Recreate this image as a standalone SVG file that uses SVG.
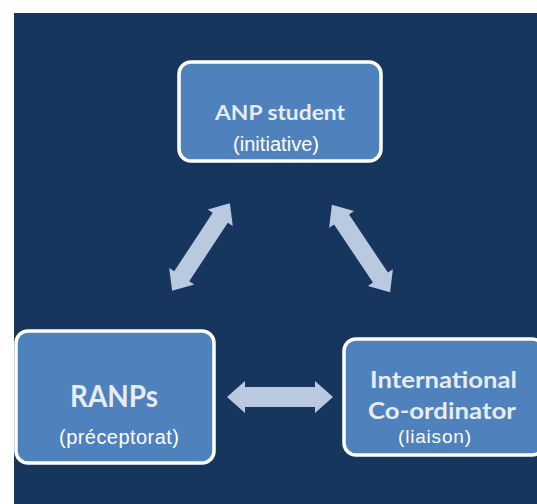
<svg xmlns="http://www.w3.org/2000/svg" width="537" height="504" viewBox="0 0 537 504">
<style>
.box{fill:#4F81BD;stroke:#FFFFFF;stroke-width:3.5}
.t1{font-family:Lato,"Open Sans",sans-serif;fill:#E6ECF3;font-weight:bold}
.t2{font-family:"Liberation Sans",Arial,sans-serif;fill:#FFFFFF;font-size:20px}
.arr{fill:#B9C9E0}
</style>
<rect x="0" y="0" width="537" height="504" fill="#FFFFFF"/>
<rect x="14" y="13" width="523" height="491" fill="#17365D"/>
<g id="connectors">
<polygon class="arr" transform="translate(201,247) rotate(-56.6)" points="-52.5,0 -35,-15 -35,-9 35,-9 35,-15 52.5,0 35,15 35,9 -35,9 -35,15"/>
<polygon class="arr" transform="translate(361,248.5) rotate(56.3)" points="-52.5,0 -35,-15 -35,-9 35,-9 35,-15 52.5,0 35,15 35,9 -35,9 -35,15"/>
<polygon class="arr" transform="translate(280,397)" points="-53,0 -35,-16 -35,-10 35,-10 35,-16 53,0 35,16 35,10 -35,10 -35,16"/>
</g>
<g id="anp">
<rect class="box" x="179" y="62" width="202" height="99" rx="12"/>
<text class="t1" x="215" y="120" font-size="21" textLength="130" lengthAdjust="spacingAndGlyphs">ANP student</text>
<text class="t2" x="233" y="151" textLength="86">(initiative)</text>
</g>
<g id="ranps">
<rect class="box" x="16" y="331" width="198" height="132" rx="12"/>
<text class="t1" x="70" y="407" font-size="30" textLength="88" lengthAdjust="spacingAndGlyphs">RANPs</text>
<text class="t2" x="59" y="444" textLength="120">(préceptorat)</text>
</g>
<g id="coord">
<rect class="box" x="344" y="339" width="200" height="116" rx="12"/>
<text class="t1" x="370" y="388" font-size="22" textLength="147" lengthAdjust="spacingAndGlyphs">International</text>
<text class="t1" x="368" y="419" font-size="22" textLength="148" lengthAdjust="spacingAndGlyphs">Co-ordinator</text>
<text class="t2" x="398" y="443" font-size="19" style="font-size:19px" textLength="73">(liaison)</text>
</g>
</svg>
